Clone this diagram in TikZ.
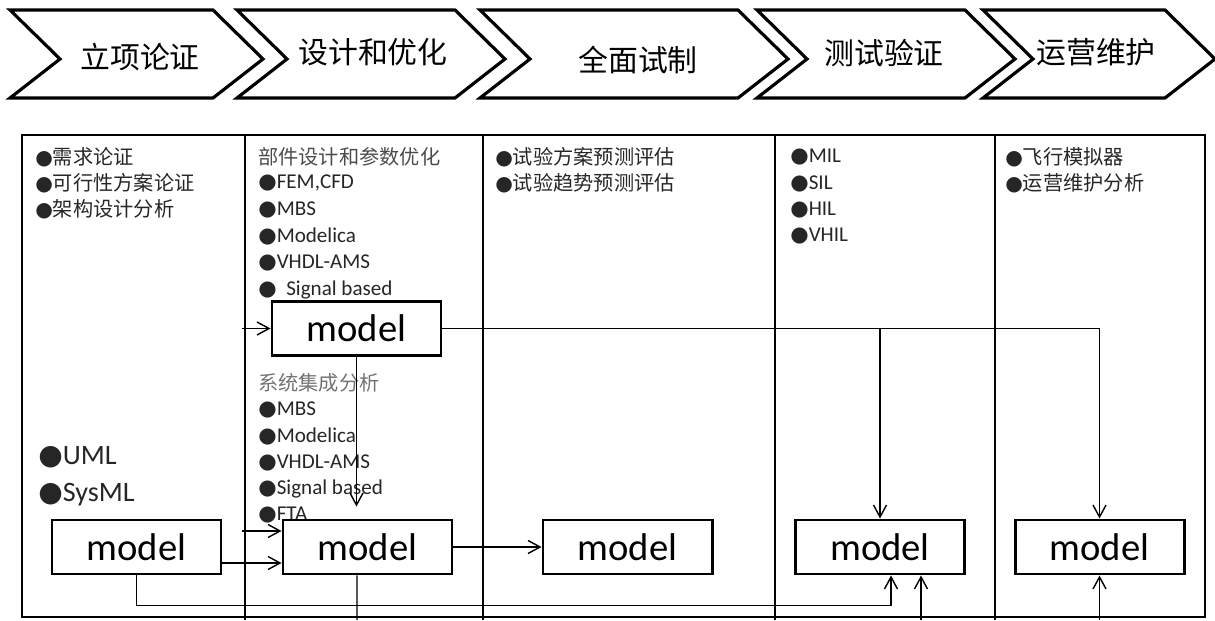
\documentclass[tikz,border=0pt]{standalone}
\usepackage{fontspec}
\setmainfont{Carlito}
\newfontfamily\cjk{Noto Sans CJK SC}
\newfontfamily\symf{DejaVu Sans}
\usetikzlibrary{arrows.meta,positioning,calc}
\newcommand{\bul}{{\symf ●}}

\begin{document}
\begin{tikzpicture}[every node/.style={font=\fontsize{12}{14}\selectfont,inner sep=0pt},
 chev/.style={draw,line width=1.8pt,line join=miter},
 stage/.style={font=\cjk\fontsize{17}{20}\selectfont},
 model/.style={draw,line width=1.7pt,fill=white,minimum width=3.38cm,minimum height=1.08cm,
   font=\fontsize{22}{24}\selectfont},
 item/.style={anchor=west,text=black!85},
 citem/.style={item,font=\cjk\fontsize{11.5}{14}\selectfont},
 arr/.style={line width=0.8pt,-{Straight Barb[length=2.4mm,width=2.6mm]}}]
\useasboundingbox (0,0) rectangle (24.3,12.4);

% stages
\foreach \l/\r/\tx/\ty/\txt [count=\i] in {
  0.2/4.26/2.8/11.26/立项论证,
  4.74/9.1/7.46/11.36/设计和优化,
  9.6/14.76/12.76/11.2/全面试制,
  15.14/19.3/17.68/11.34/测试验证,
  19.66/23.3/21.92/11.36/运营维护}{
 \draw[chev] (\l,12.2)--(\r,12.2)--(\r+1,11.22)--(\r,10.44)--(\l,10.44)--(\l+1,11.22)--cycle;
 \node[stage] (st\i) at (\tx,\ty) {\txt};}

% table
\draw[line width=1.1pt] (0.44,0.06) rectangle (24.1,9.7);
\foreach \x in {4.9,9.66,15.5,19.9}{\draw[line width=1.1pt] (\x,0) -- (\x,9.7);}

% column texts
\foreach \t [count=\i] in {需求论证,可行性方案论证,架构设计分析}{
  \node[citem] (a\i) at (0.7,9.78-0.52*\i) {\bul\t};}
\node[item,font=\fontsize{16}{18}\selectfont] (u1) at (0.76,3.26) {\bul UML};
\node[item,font=\fontsize{16}{18}\selectfont] (u2) at (0.76,2.5) {\bul SysML};

\node[citem,text=black!70] (b0) at (5.16,9.26) {部件设计和参数优化};
\foreach \t [count=\i] in {{FEM,CFD},MBS,Modelica,VHDL-AMS,{\ \ Signal based}}{
  \node[item] (b\i) at (5.16,9.26-0.53*\i) {\bul\t};}
\node[citem,text=black!55] (c0) at (5.16,4.74) {系统集成分析};
\foreach \t [count=\i] in {MBS,Modelica,VHDL-AMS,Signal based,FTA}{
  \node[item] (c\i) at (5.16,4.74-0.53*\i) {\bul\t};}

\foreach \t [count=\i] in {试验方案预测评估,试验趋势预测评估}{
  \node[citem] (d\i) at (9.9,9.78-0.52*\i) {\bul\t};}
\foreach \t [count=\i] in {MIL,SIL,HIL,VHIL}{
  \node[item] (e\i) at (15.8,9.79-0.53*\i) {\bul\t};}
\foreach \t [count=\i] in {飞行模拟器,运营维护分析}{
  \node[citem] (f\i) at (20.1,9.78-0.52*\i) {\bul\t};}

% models
\node[model] (m1) at (2.73,1.46) {model};
\node[model] (m2a) at (7.13,5.83) {model};
\node[model] (m2b) at (7.35,1.46) {model};
\node[model] (m3) at (12.55,1.46) {model};
\node[model] (m4) at (17.6,1.46) {model};
\node[model] (m5) at (21.99,1.46) {model};

\coordinate (in2a) at (4.84,5.83);
\coordinate (in2b) at (4.84,1.78);
\coordinate (out2b) at (7.14,0);
\coordinate (b4) at (18.42,0);
\coordinate (b5) at (21.99,0);

% links
\draw[arr] (in2a) -- (m2a.west);
\draw[arr] (m2a.east) -| (m5.north);
\draw[arr] (m2a.east -| m4.north) -- (m4.north);
\draw[arr,shorten >=0.24cm] (m2a.south) -- (m2a.south |- m2b.north);
\draw[arr] (in2b) -- (in2b -| m2b.west);
\draw[arr] ([yshift=-0.32cm]m1.east) -- ([yshift=-0.32cm]m2b.west);
\draw[arr] (m2b.east) -- (m3.west);
\draw[arr] (m1.south) -- ++(0,-0.6) -| ([xshift=0.22cm]m4.south);
\draw[arr] (b4) -- (b4 |- m4.south);
\draw[arr] (b5) -- (m5.south);
\draw[line width=0.8pt] ([xshift=-0.21cm]m2b.south) -- (out2b);
\end{tikzpicture}
\end{document}
